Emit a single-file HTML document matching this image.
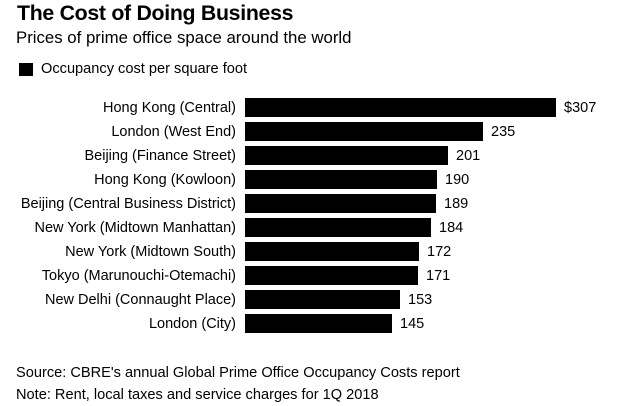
<!DOCTYPE html>
<html><head><style>
body{margin:0;width:624px;height:406px;background:#fff;font-family:"Liberation Sans",Arial,sans-serif;color:#000;position:relative;overflow:hidden}
.a{position:absolute;white-space:nowrap}
.l{position:absolute;right:388px;font-size:14.5px;line-height:19px;white-space:nowrap;margin-top:2px}
.b{position:absolute;left:245px;height:18.7px;background:#000}
.v{position:absolute;font-size:14.5px;line-height:19px;margin-top:2px}
</style></head><body>
<div class="a" style="left:17px;top:1px;font-size:21.3px;font-weight:bold;letter-spacing:-0.3px">The Cost of Doing Business</div>
<div class="a" style="left:16px;top:28px;font-size:16.8px">Prices of prime office space around the world</div>
<div class="a" style="left:19px;top:63px;width:14px;height:13px;background:#000"></div>
<div class="a" style="left:41px;top:61px;font-size:14.6px">Occupancy cost per square foot</div>
<div class="l" style="top:97px">Hong Kong (Central)</div><div class="b" style="top:98px;width:310.5px"></div><div class="v" style="top:97px;left:564px">$307</div>
<div class="l" style="top:121px">London (West End)</div><div class="b" style="top:122px;width:237.7px"></div><div class="v" style="top:121px;left:491px">235</div>
<div class="l" style="top:145px">Beijing (Finance Street)</div><div class="b" style="top:146px;width:203.4px"></div><div class="v" style="top:145px;left:456px">201</div>
<div class="l" style="top:169px">Hong Kong (Kowloon)</div><div class="b" style="top:170px;width:192.2px"></div><div class="v" style="top:169px;left:445px">190</div>
<div class="l" style="top:193px">Beijing (Central Business District)</div><div class="b" style="top:194px;width:191.2px"></div><div class="v" style="top:193px;left:444px">189</div>
<div class="l" style="top:217px">New York (Midtown Manhattan)</div><div class="b" style="top:218px;width:186.1px"></div><div class="v" style="top:217px;left:439px">184</div>
<div class="l" style="top:241px">New York (Midtown South)</div><div class="b" style="top:242px;width:174px"></div><div class="v" style="top:241px;left:427px">172</div>
<div class="l" style="top:265px">Tokyo (Marunouchi-Otemachi)</div><div class="b" style="top:266px;width:173px"></div><div class="v" style="top:265px;left:426px">171</div>
<div class="l" style="top:289px">New Delhi (Connaught Place)</div><div class="b" style="top:290px;width:154.8px"></div><div class="v" style="top:289px;left:408px">153</div>
<div class="l" style="top:313px">London (City)</div><div class="b" style="top:314px;width:146.7px"></div><div class="v" style="top:313px;left:400px">145</div>
<div class="a" style="left:16px;top:365px;font-size:14.6px">Source: CBRE's annual Global Prime Office Occupancy Costs report</div>
<div class="a" style="left:16px;top:387px;font-size:14.6px">Note: Rent, local taxes and service charges for 1Q 2018</div>
</body></html>
